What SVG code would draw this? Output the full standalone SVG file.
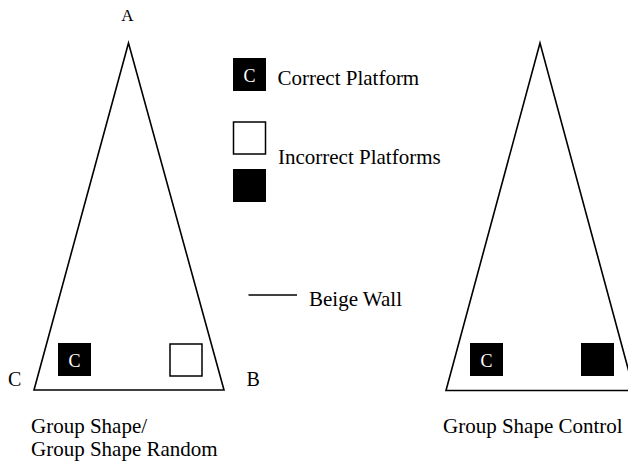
<svg xmlns="http://www.w3.org/2000/svg" width="628" height="463" viewBox="0 0 628 463" font-family="'Liberation Serif', 'DejaVu Serif', serif">
<style>
text{font-family:'Liberation Serif','DejaVu Serif',serif;fill:#000}
.lbl{font-size:21px}
.corner{font-size:20px}
.w{stroke:#000;stroke-width:1.6;fill:none}
.blk{fill:#000}
.wht{fill:#fff;stroke:#000;stroke-width:1.5}
.cw{font-size:18px;fill:#fff;text-anchor:middle}
</style>
<rect width="628" height="463" fill="#fff"/>
<g id="arena-left">
<polygon class="w" points="128.5,43 34,390 224,390"/>
<rect class="blk" x="58" y="343" width="33" height="33"/>
<text class="cw" x="74.5" y="366.5">C</text>
<rect class="wht" x="170" y="344" width="32" height="32"/>
<text x="127.5" y="21" style="font-size:17px" text-anchor="middle">A</text>
<text class="corner" x="8" y="386">C</text>
<text class="corner" x="246.5" y="386">B</text>
<text class="lbl" x="31" y="433">Group Shape/</text>
<text class="lbl" x="31" y="455.5">Group Shape Random</text>
</g>
<g id="arena-right">
<polygon class="w" points="540,43 446,390.5 634,390.5"/>
<rect class="blk" x="470" y="343" width="33" height="33"/>
<text class="cw" x="486.5" y="366.5">C</text>
<rect class="blk" x="581" y="343" width="33" height="33"/>
<text class="lbl" x="443" y="433">Group Shape Control</text>
</g>
<g id="legend">
<rect class="blk" x="233" y="58" width="33" height="33"/>
<text class="cw" x="249.5" y="81.5">C</text>
<text class="lbl" x="277.5" y="85">Correct Platform</text>
<rect class="wht" x="233.5" y="122" width="32" height="32"/>
<rect class="blk" x="233" y="169" width="33" height="33"/>
<text class="lbl" x="278" y="164">Incorrect Platforms</text>
<line class="w" x1="248.5" y1="295" x2="297" y2="295"/>
<text class="lbl" x="309" y="306">Beige Wall</text>
</g>
<g id="connectors"/>
</svg>
